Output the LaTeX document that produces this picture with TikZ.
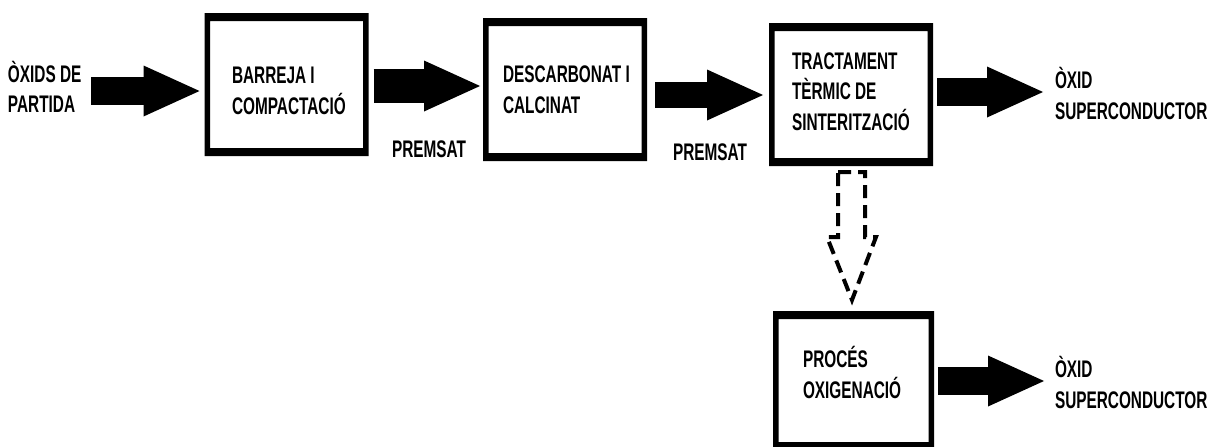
\documentclass[tikz,border=0pt]{standalone}
\usepackage{fontspec}
\setmainfont{Liberation Sans}[FakeStretch=0.64]
\usetikzlibrary{arrows.meta,calc}

\begin{document}
\begin{tikzpicture}[
  x=1pt,
  y=-1pt,
  every node/.style={font=\bfseries\fontsize{24}{30.5}\selectfont},
  txt/.style={inner sep=0pt, outer sep=0pt, align=left, anchor=base west},
  block/.style={inner sep=0pt, outer sep=0pt, minimum width=164pt, minimum height=143pt},
  fat/.style={line width=28pt, -{Triangle[length=56pt, width=51pt, line width=0pt]}},
  hollow/.style={line width=4pt, dash pattern=on 13pt off 7pt},
]
  \useasboundingbox (0,0) rectangle (1210,447);

  % process boxes (frames drawn below)
  \node[block] (barreja) at (286.5,84.5) {};
  \node[block] (descarb) at (565,89.5) {};
  \node[block] (tract) at (851,94.5) {};
  \node[block, minimum width=161pt, minimum height=139pt] (oxig) at (853.5,380.5) {};

  \foreach \b in {barreja,descarb,tract,oxig}
    \fill[even odd rule] (\b.north west) rectangle (\b.south east)
      ($(\b.north west)+(5.5,8)$) rectangle ($(\b.south east)+(-5.5,-8)$);

  % labels (anchored on the baseline of their last line)
  \node[txt] (oxids) at (8,112.5) {ÒXIDS DE\\PARTIDA};
  \node[txt] (barrejat) at (232,114) {BARREJA I\\COMPACTACIÓ};
  \node[txt] (descarbt) at (503,113) {DESCARBONAT I\\CALCINAT};
  \node[txt] (premsa1) at (392,157) {PREMSAT};
  \node[txt] (premsa2) at (673,160) {PREMSAT};
  \node[txt] (tractt) at (792,130) {TRACTAMENT\\TÈRMIC DE\\SINTERITZACIÓ};
  \node[txt] (oxsup1) at (1055,119) {ÒXID\\SUPERCONDUCTOR};
  \node[txt] (oxigt) at (803,398) {PROCÉS\\OXIGENACIÓ};
  \node[txt] (oxsup2) at (1055,408) {ÒXID\\SUPERCONDUCTOR};

  % block arrows
  \draw[fat] ($(oxids.east |- barreja.west)+(10,6.5)$) -- ($(barreja.west)+(-5,6.5)$);
  \draw[fat, line width=34pt] ($(barreja.east)+(5,1.5)$) -- ($(barreja.east -| descarb.west)+(-3,1.5)$);
  \draw[fat, line width=26pt] ($(descarb.east |- tract.west)+(8,0.5)$) -- ($(tract.west)+(-6,0.5)$);
  \draw[fat] ($(tract.east)+(4,-2.5)$) -- ($(tract.east -| oxsup1.west)+(-12,-2.5)$);
  \draw[fat] ($(oxig.east)+(4,0.5)$) -- ($(oxig.east -| oxsup2.west)+(-11,0.5)$);

  % dashed hollow arrow to oxygenation
  \coordinate (dtop) at ($(tract.south)+(0.5,6)$);
  \coordinate (dtip) at ($(oxig.north)+(-1.5,-11)$);
  \draw[hollow] ($(dtop)+(-13.5,0)$) -- ($(dtop)+(13.5,0)$) -- ($(dtop)+(13.5,65)$)
    -- ($(dtop)+(24.5,65)$) -- (dtip) -- ($(dtop)+(-24.5,65)$) -- ($(dtop)+(-13.5,65)$) -- cycle;
\end{tikzpicture}
\end{document}
